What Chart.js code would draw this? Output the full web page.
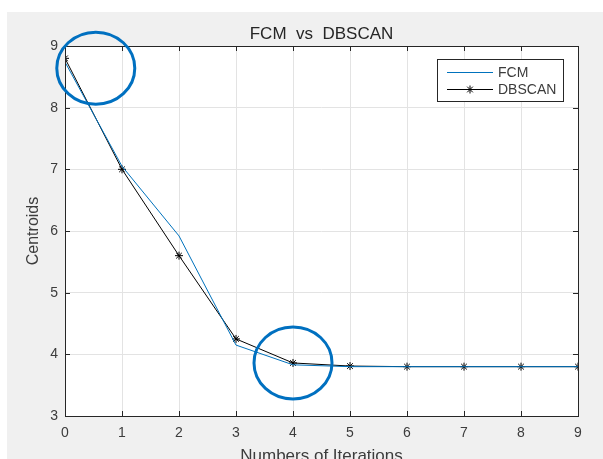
<!DOCTYPE html>
<html>
<head>
<meta charset="utf-8">
<script src="https://cdn.jsdelivr.net/npm/chart.js@4"></script>
<style>
  html, body { margin: 0; padding: 0; background: #fff; }
  #wrap { width: 603px; height: 459px; }
</style>
</head>
<body>
<div id="wrap"><canvas id="chart-centroids"></canvas></div>
<script>
// values
var iterations = [0, 1, 2, 3, 4, 5, 6, 7, 8, 9];
var fcmCentroids = [8.74, 7.05, 5.92, 4.15, 3.83, 3.8, 3.8, 3.8, 3.8, 3.8];
var dbscanCentroids = [8.8, 7.0, 5.6, 4.25, 3.86, 3.81, 3.8, 3.8, 3.8, 3.8];
var yTicks = [3, 4, 5, 6, 7, 8, 9];
var chartTitle = 'FCM  vs  DBSCAN';

// hand-drawn circles on the figure, in data units
var highlights = [{ x: 0.54, y: 8.64 }, { x: 4.0, y: 3.86 }];

var FONT = '"Liberation Sans", Arial, sans-serif';
var TXT = '#3c3c3c';

function toPoints(ys) {
  return iterations.map(function (x, i) { return { x: x, y: ys[i] }; });
}

// grey figure background + white axes box
var figureBg = {
  id: 'figureBg',
  beforeDraw: function (chart) {
    var ctx = chart.ctx, a = chart.chartArea;
    ctx.save();
    ctx.fillStyle = '#ffffff';
    ctx.fillRect(0, 0, chart.width, chart.height);
    ctx.fillStyle = '#f0f0f0';
    ctx.fillRect(7, 12, chart.width - 7, chart.height - 12);
    ctx.fillStyle = '#ffffff';
    ctx.fillRect(a.left, a.top, a.right - a.left, a.bottom - a.top);
    // title centred over the axes, like matlab does
    ctx.fillStyle = '#262626';
    ctx.font = '17px ' + FONT;
    ctx.textAlign = 'center';
    ctx.textBaseline = 'middle';
    ctx.fillText(chartTitle, (a.left + a.right) / 2, 34);
    ctx.restore();
  }
};

// box, inner tick marks, legend and circles
var matlabBits = {
  id: 'matlabBits',
  afterDatasetsDraw: function (chart) {
    var ctx = chart.ctx, a = chart.chartArea;
    var xs = chart.scales.x, ys = chart.scales.y;
    ctx.save();

    // inner ticks
    ctx.strokeStyle = '#262626';
    ctx.lineWidth = 1;
    ctx.beginPath();
    xs.ticks.forEach(function (t) {
      var px = Math.round(xs.getPixelForValue(t.value)) + 0.5;
      ctx.moveTo(px, a.bottom); ctx.lineTo(px, a.bottom - 5);
      ctx.moveTo(px, a.top); ctx.lineTo(px, a.top + 5);
    });
    ys.ticks.forEach(function (t) {
      var py = Math.round(ys.getPixelForValue(t.value)) + 0.5;
      ctx.moveTo(a.left, py); ctx.lineTo(a.left + 5, py);
      ctx.moveTo(a.right, py); ctx.lineTo(a.right - 5, py);
    });
    ctx.stroke();

    // axes box
    ctx.strokeStyle = '#262626';
    ctx.strokeRect(Math.round(a.left) + 0.5, Math.round(a.top) + 0.5,
      Math.round(a.right - a.left), Math.round(a.bottom - a.top));

    // legend
    var lx = a.right - 141, ly = a.top + 13, lw = 126, lh = 42;
    ctx.fillStyle = '#ffffff';
    ctx.fillRect(lx, ly, lw, lh);
    ctx.strokeStyle = '#262626';
    ctx.strokeRect(lx + 0.5, ly + 0.5, lw, lh);
    ctx.font = '14px ' + FONT;
    ctx.textBaseline = 'middle';
    chart.data.datasets.forEach(function (ds, i) {
      var rowY = ly + 13 + i * 17;
      ctx.strokeStyle = ds.borderColor;
      ctx.lineWidth = 1;
      ctx.beginPath();
      ctx.moveTo(lx + 10, rowY + 0.5); ctx.lineTo(lx + 56, rowY + 0.5);
      ctx.stroke();
      if (ds.pointRadius > 0) {
        Chart.helpers.drawPoint(ctx, { pointStyle: 'star', radius: 4, borderWidth: 1 }, lx + 33, rowY + 0.5);
      }
      ctx.fillStyle = TXT;
      ctx.fillText(ds.label, lx + 61, rowY + 1);
    });

    // circles
    ctx.strokeStyle = '#0070c0';
    ctx.lineWidth = 3;
    highlights.forEach(function (h) {
      ctx.beginPath();
      ctx.ellipse(xs.getPixelForValue(h.x), ys.getPixelForValue(h.y), 39, 36, 0, 0, Math.PI * 2);
      ctx.stroke();
    });
    ctx.restore();
  }
};

var chart = new Chart(document.getElementById('chart-centroids').getContext('2d'), {
  type: 'line',
  data: {
    datasets: [{
      label: 'FCM',
      data: toPoints(fcmCentroids),
      borderColor: '#0072bd',
      backgroundColor: '#0072bd',
      borderWidth: 1,
      pointRadius: 0,
      tension: 0
    }, {
      label: 'DBSCAN',
      data: toPoints(dbscanCentroids),
      borderColor: '#000000',
      backgroundColor: '#000000',
      borderWidth: 1,
      pointStyle: 'star',
      pointRadius: 4,
      pointBorderWidth: 1,
      tension: 0
    }]
  },
  options: {
    responsive: true,
    maintainAspectRatio: false,
    animation: false,
    layout: { padding: { top: 46, right: 25, bottom: 0, left: 0 } },
    plugins: {
      legend: { display: false },
      tooltip: { enabled: false },
      title: { display: false }
    },
    scales: {
      x: {
        type: 'linear',
        min: 0,
        max: 9,
        afterFit: function (s) { s.height = 43; },
        ticks: { stepSize: 1, color: TXT, padding: 9, font: { family: FONT, size: 14 } },
        grid: { color: '#e3e3e3', drawTicks: false },
        border: { display: false },
        title: {
          display: true,
          text: 'Numbers of Iterations',
          color: TXT,
          font: { family: FONT, size: 17, lineHeight: 1.2 },
          padding: { top: 0, bottom: -8 }
        }
      },
      y: {
        min: 3,
        max: 9,
        afterFit: function (s) { s.width = 65; },
        afterBuildTicks: function (s) { s.ticks = yTicks.map(function (v) { return { value: v }; }); },
        ticks: { color: TXT, padding: 7, font: { family: FONT, size: 14 } },
        grid: { color: '#e3e3e3', drawTicks: false },
        border: { display: false },
        title: {
          display: true,
          text: 'Centroids',
          color: TXT,
          font: { family: FONT, size: 16, lineHeight: 1.2 },
          padding: { top: 24, bottom: 0 }
        }
      }
    }
  },
  plugins: [figureBg, matlabBits]
});
</script>
</body>
</html>
